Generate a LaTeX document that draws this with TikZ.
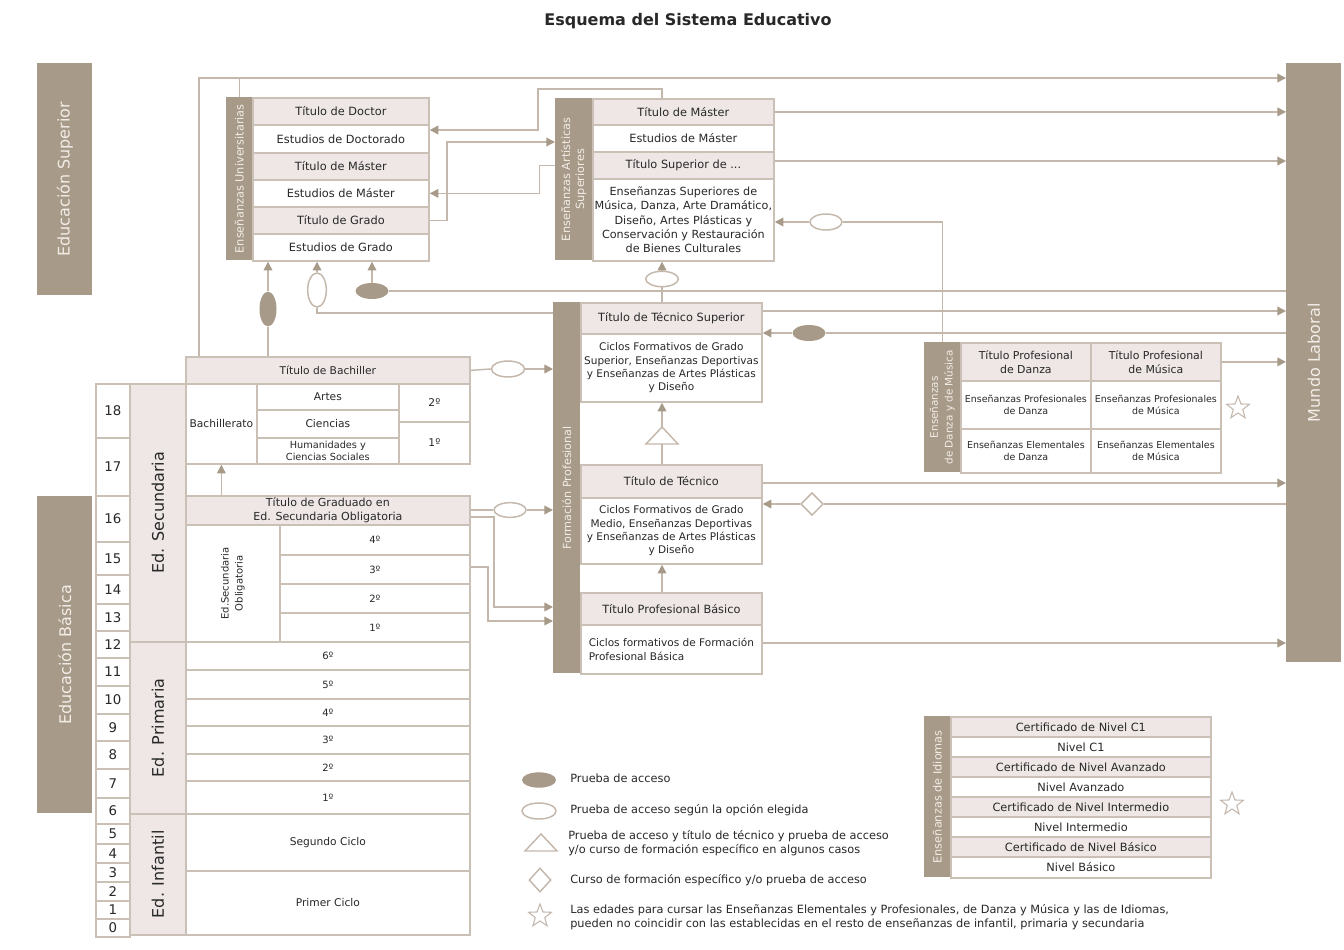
\documentclass[tikz,border=0pt]{standalone}
\usepackage{fontspec}
\setmainfont{DejaVu Sans}
\usetikzlibrary{arrows.meta,shapes.geometric,calc}
\definecolor{brownC}{RGB}{168,154,136}
\definecolor{lightC}{RGB}{238,231,230}
\definecolor{lineC}{RGB}{203,192,182}
\definecolor{connC}{RGB}{196,184,173}
\definecolor{txtC}{RGB}{40,40,40}
\definecolor{barT}{RGB}{242,237,231}
\newcommand\myfs[2]{\fontsize{#1}{#2}\selectfont}
\newcommand\sbx[7]{%
  \pgfmathsetmacro\sbxw{(#4-#2)*0.75}%
  \pgfmathsetmacro\sbxh{(#5-#3)*0.75}%
  \node[#6, minimum width=\sbxw pt, minimum height=\sbxh pt, anchor=north west] (#1) at (#2,#3) {#7};}
\tikzset{
  cell/.style={draw=lineC, line width=1.3pt, fill=white, inner sep=0pt, align=center, text=txtC, font=\myfs{8.5}{10.5}},
  hcell/.style={cell, fill=lightC},
  agecell/.style={cell, font=\myfs{10}{12}},
  bar/.style={fill=brownC, draw=none, inner sep=0pt},
  bartext/.style={text=barT, align=center, inner sep=0pt},
  conn/.style={draw=connC, line width=1.1pt},
  arr/.style={conn, -{Triangle[length=6.5pt,width=6.5pt,color=brownC]}},
  fellipse/.style={ellipse, fill=brownC, draw=none, inner sep=0pt},
  oellipse/.style={ellipse, fill=white, draw=connC, line width=1.1pt, inner sep=0pt},
  odiamond/.style={diamond, draw=connC, line width=1.1pt, fill=white, inner sep=0pt},
  ostar/.style={star, star points=5, star point ratio=2.4, draw=connC, line width=0.8pt, fill=white, inner sep=0pt, minimum size=18pt},
  legtext/.style={anchor=west, align=left, text=txtC, font=\myfs{8.5}{10.5}, inner sep=0pt},
}
\begin{document}
\begin{tikzpicture}[x=0.75pt,y=-0.75pt]
\useasboundingbox (0,0) rectangle (1344,949);
\fill[white] (0,0) rectangle (1344,949);

\node[font=\bfseries\myfs{12}{14}, text=txtC] (title) at (688,21) {Esquema del Sistema Educativo};

% side bars
\sbx{es}{37}{63}{92}{295}{bar}{}
\node[bartext, rotate=90, font=\myfs{12}{14}] (esT) at (es.center) {Educación Superior};
\sbx{eb}{37}{496}{92}{813}{bar}{}
\node[bartext, rotate=90, font=\myfs{12}{14}] (ebT) at (eb.center) {Educación Básica};
\sbx{ml}{1286}{63}{1341}{662}{bar}{}
\node[bartext, rotate=90, font=\myfs{12}{14}] (mlT) at (ml.center) {Mundo Laboral};

% ages
\foreach \n/\ya/\yb in {18/383/437,17/437/495,16/495/541,15/541/574,14/574/603,13/603/630,12/630/657,11/657/685,10/685/713,9/713/740,8/740/768,7/768/797,6/797/823,5/823/843,4/843/862,3/862/881,2/881/900,1/900/918,0/918/936}{
  \sbx{a\n}{95}{\ya}{129}{\yb}{agecell}{\n}
}

% stage labels
\sbx{secL}{129}{383}{185}{641}{hcell}{}
\node[rotate=90, font=\myfs{12}{14}, text=txtC] (secT) at (secL.center) {Ed. Secundaria};
\sbx{primL}{129}{641}{185}{813}{hcell}{}
\node[rotate=90, font=\myfs{12}{14}, text=txtC] (primT) at (primL.center) {Ed. Primaria};
\sbx{infL}{129}{813}{185}{934}{hcell}{}
\node[rotate=90, font=\myfs{12}{14}, text=txtC] (infT) at (infL.center) {Ed. Infantil};

% bachillerato
\sbx{bT}{185}{356}{469}{383}{hcell, font=\myfs{8}{10}}{Título de Bachiller}
\sbx{bB}{185}{383}{256}{463}{cell, font=\myfs{8}{10}}{Bachillerato}
\sbx{bA}{256}{383}{398}{409}{cell, font=\myfs{8}{10}}{Artes}
\sbx{bC}{256}{409}{398}{437}{cell, font=\myfs{8}{10}}{Ciencias}
\sbx{bH}{256}{437}{398}{463}{cell, font=\myfs{7.3}{9}}{Humanidades y\\Ciencias Sociales}
\sbx{b2}{398}{383}{469}{421}{cell, font=\myfs{8}{10}}{2º}
\sbx{b1}{398}{421}{469}{463}{cell, font=\myfs{8}{10}}{1º}

% ESO
\sbx{gT}{185}{495}{469}{524}{hcell, font=\myfs{8.3}{10.5}}{Título de Graduado en\\Ed. Secundaria Obligatoria}
\sbx{gL}{185}{524}{279}{641}{cell}{}
\node[rotate=90, font=\myfs{7.5}{10.5}, text=txtC, align=center] (gLT) at (gL.center) {Ed.Secundaria\\Obligatoria};
\sbx{g4}{279}{524}{469}{554}{cell, font=\myfs{7.5}{9}}{4º}
\sbx{g3}{279}{554}{469}{583}{cell, font=\myfs{7.5}{9}}{3º}
\sbx{g2}{279}{583}{469}{612}{cell, font=\myfs{7.5}{9}}{2º}
\sbx{g1}{279}{612}{469}{641}{cell, font=\myfs{7.5}{9}}{1º}

% primaria / infantil
\sbx{p6}{185}{641}{469}{669}{cell, font=\myfs{7.5}{9}}{6º}
\sbx{p5}{185}{669}{469}{698}{cell, font=\myfs{7.5}{9}}{5º}
\sbx{p4}{185}{698}{469}{725}{cell, font=\myfs{7.5}{9}}{4º}
\sbx{p3}{185}{725}{469}{753}{cell, font=\myfs{7.5}{9}}{3º}
\sbx{p2}{185}{753}{469}{780}{cell, font=\myfs{7.5}{9}}{2º}
\sbx{p1}{185}{780}{469}{813}{cell, font=\myfs{7.5}{9}}{1º}
\sbx{inf2}{185}{813}{469}{870}{cell, font=\myfs{8}{10}}{Segundo Ciclo}
\sbx{inf1}{185}{870}{469}{934}{cell, font=\myfs{8}{10}}{Primer Ciclo}

% universidad
\sbx{univL}{226}{97}{252}{260}{bar}{}
\node[bartext, rotate=90, font=\myfs{8.5}{10}] (univT) at (univL.center) {Enseñanzas Universitarias};
\sbx{uTD}{252}{97}{428}{124}{hcell}{Título de Doctor}
\sbx{uED}{252}{124}{428}{152}{cell}{Estudios de Doctorado}
\sbx{uTM}{252}{152}{428}{179}{hcell}{Título de Máster}
\sbx{uEM}{252}{179}{428}{206}{cell}{Estudios de Máster}
\sbx{uTG}{252}{206}{428}{233}{hcell}{Título de Grado}
\sbx{uEG}{252}{233}{428}{260}{cell}{Estudios de Grado}

% artisticas
\sbx{artL}{555}{98}{592}{260}{bar}{}
\node[bartext, rotate=90, font=\myfs{8.5}{10.5}] (artT) at (artL.center) {Enseñanzas Artísticas\\Superiores};
\sbx{aTM}{592}{98}{773}{124}{hcell}{Título de Máster}
\sbx{aEM}{592}{124}{773}{151}{cell}{Estudios de Máster}
\sbx{aTS}{592}{151}{773}{178}{hcell}{Título Superior de ...}
\sbx{aES}{592}{178}{773}{260}{cell, font=\myfs{8.4}{10.7}}{Enseñanzas Superiores de\\Música, Danza, Arte Dramático,\\Diseño, Artes Plásticas y\\Conservación y Restauración\\de Bienes Culturales}

% formacion profesional
\sbx{fpL}{553}{302}{580}{673}{bar}{}
\node[bartext, rotate=90, font=\myfs{8.4}{10}] (fpT) at (fpL.center) {Formación Profesional};
\sbx{fTS}{580}{302}{761}{333}{hcell}{Título de Técnico Superior}
\sbx{fGS}{580}{333}{761}{401}{cell, font=\myfs{7.9}{10.1}}{Ciclos Formativos de Grado\\Superior, Enseñanzas Deportivas\\y Enseñanzas de Artes Plásticas\\y Diseño}
\sbx{fTT}{580}{464}{761}{497}{hcell}{Título de Técnico}
\sbx{fGM}{580}{497}{761}{563}{cell, font=\myfs{7.9}{10.1}}{Ciclos Formativos de Grado\\Medio, Enseñanzas Deportivas\\y Enseñanzas de Artes Plásticas\\y Diseño}
\sbx{fTPB}{580}{592}{761}{624}{hcell}{Título Profesional Básico}
\sbx{fFPB}{580}{624}{761}{673}{cell, font=\myfs{7.9}{10.5}, align=left}{Ciclos formativos de Formación\\Profesional Básica}

% danza y musica
\sbx{danL}{924}{342}{960}{472}{bar}{}
\node[bartext, rotate=90, font=\myfs{7.8}{11}] (danT) at (danL.center) {Enseñanzas\\de Danza y de Música};
\sbx{dTPD}{960}{342}{1090}{380}{hcell, font=\myfs{8.2}{10.5}}{Título Profesional\\de Danza}
\sbx{dTPM}{1090}{342}{1220}{380}{hcell, font=\myfs{8.2}{10.5}}{Título Profesional\\de Música}
\sbx{dEPD}{960}{380}{1090}{428}{cell, font=\myfs{7.1}{9}}{Enseñanzas Profesionales\\de Danza}
\sbx{dEPM}{1090}{380}{1220}{428}{cell, font=\myfs{7.1}{9}}{Enseñanzas Profesionales\\de Música}
\sbx{dEED}{960}{428}{1090}{472}{cell, font=\myfs{7.1}{9}}{Enseñanzas Elementales\\de Danza}
\sbx{dEEM}{1090}{428}{1220}{472}{cell, font=\myfs{7.1}{9}}{Enseñanzas Elementales\\de Música}
\node[ostar] (st1) at (1238,408) {};

% idiomas
\sbx{idL}{924}{716}{950}{877}{bar}{}
\node[bartext, rotate=90, font=\myfs{8.5}{10}] (idT) at (idL.center) {Enseñanzas de Idiomas};
\sbx{i1}{950}{716}{1210}{736}{hcell}{Certificado de Nivel C1}
\sbx{i2}{950}{736}{1210}{756}{cell}{Nivel C1}
\sbx{i3}{950}{756}{1210}{776}{hcell}{Certificado de Nivel Avanzado}
\sbx{i4}{950}{776}{1210}{796}{cell}{Nivel Avanzado}
\sbx{i5}{950}{796}{1210}{816}{hcell}{Certificado de Nivel Intermedio}
\sbx{i6}{950}{816}{1210}{836}{cell}{Nivel Intermedio}
\sbx{i7}{950}{836}{1210}{856}{hcell}{Certificado de Nivel Básico}
\sbx{i8}{950}{856}{1210}{877}{cell}{Nivel Básico}
\node[ostar] (st2) at (1232,804) {};

% access symbols
\node[fellipse, minimum width=12.75pt, minimum height=26pt] (e1) at (268,309) {};
\node[oellipse, minimum width=14pt, minimum height=25.5pt] (e2) at (317,290) {};
\node[fellipse, minimum width=24.75pt, minimum height=12pt] (e3) at (372,291) {};
\node[oellipse, minimum width=24pt, minimum height=12pt] (e4) at (826,222) {};
\node[oellipse, minimum width=24.5pt, minimum height=11.5pt] (e5) at (662,279) {};
\node[fellipse, minimum width=24.75pt, minimum height=12pt] (e6) at (809,333) {};
\node[oellipse, minimum width=24.75pt, minimum height=12pt] (e7) at (508,369) {};
\node[oellipse, minimum width=24pt, minimum height=11pt] (e8) at (510,510) {};
\node[odiamond, minimum width=17pt, minimum height=17pt] (dia) at (812,504) {};
\coordinate (triA) at (662,427);
\coordinate (triB) at (662,444);
\draw[conn, fill=white] (646,444) -- (678,444) -- (triA) -- cycle;

% connectors
\coordinate (topY) at (0,78);
\draw[arr] ($(bT.north west)+(14,0)$) |- (ml.west |- topY);
\draw[conn] (univL.north) -- (univL.north |- topY);
\draw[conn] ($(bT.north west)+(83,0)$) -- (e1.south);
\draw[arr] (e1.north) -- (e1.north |- uEG.south);
\draw[arr] (e2.north) -- (e2.north |- uEG.south);
\draw[conn] (e2.south) |- (fpL.west |- 0,313);
\draw[arr] (e3.north) -- (e3.north |- uEG.south);
\draw[conn] (e3.east) -- (ml.west |- e3.east);
\draw[arr] ($(aTM.north west)+(70,0)$) |- (538,89) |- (uED.east |- 0,130);
\draw[arr] (uTG.east) -| (447,142) -- (artL.west |- 0,142);
\draw[arr] (artL.west |- aTS.center) -| ($(uEM.east)+(110,0)$) -- (uEM.east);
\draw[arr] (aTM.east) -- (ml.west |- aTM.east);
\draw[arr] (aTS.east |- 0,161) -- (ml.west |- 0,161);
\draw[conn] (danL.north) |- (e4.east);
\draw[arr] (e4.west) -- (aES.east |- e4.west);
\draw[conn] ($(fTS.north west)+(82,0)$) -- (e5.south);
\draw[arr] (e5.north) -- (e5.north |- aES.south);
\draw[arr] (fTS.east |- 0,311) -- (ml.west |- 0,311);
\draw[conn] (ml.west |- e6.east) -- (e6.east);
\draw[arr] (e6.west) -- (fGS.north east);
\draw[conn] (bT.east) -- (e7.west);
\draw[arr] (e7.east) -- (fpL.west |- e7.east);
\draw[conn] (gT.east |- e8.west) -- (e8.west);
\draw[arr] (e8.east) -- (fpL.west |- e8.east);
\draw[arr] (gT.east |- 0,517) -| (494,607) -- (fpL.west |- 0,607);
\draw[arr] (g3.east |- 0,567) -| (488,621) -- (fpL.west |- 0,621);
\draw[arr] (gT.north -| bB.south) -- (bB.south);
\draw[conn] ($(fTT.north west)+(82,0)$) -- (triB);
\draw[arr] (triA) -- (triA |- fGS.south);
\draw[arr] (fTT.east |- 0,483) -- (ml.west |- 0,483);
\draw[conn] (ml.west |- dia.east) -- (dia.east);
\draw[arr] (dia.west) -- (fGM.east |- dia.west);
\draw[arr] ($(fTPB.north west)+(82,0)$) -- ($(fGM.south west)+(82,0)$);
\draw[arr] (fFPB.east |- 0,643) -- (ml.west |- 0,643);
\draw[arr] (dTPM.east) -- (ml.west |- dTPM.east);

% legend
\node[fellipse, minimum width=25.5pt, minimum height=11.5pt] (lg1) at (539,780) {};
\node[legtext] (lg1t) at (570,778) {Prueba de acceso};
\node[oellipse, minimum width=25.5pt, minimum height=12pt] (lg2) at (539,811) {};
\node[legtext] (lg2t) at (570,810) {Prueba de acceso según la opción elegida};
\coordinate (lg3) at (541,842);
\draw[conn, fill=white] (525,851) -- (557,851) -- (541,834) -- cycle;
\node[legtext] (lg3t) at (568,843) {Prueba de acceso y título de técnico y prueba de acceso\\y/o curso de formación específico en algunos casos};
\node[odiamond, minimum width=16.5pt, minimum height=18pt] (lg4) at (540,880) {};
\node[legtext] (lg4t) at (570,880) {Curso de formación específico y/o prueba de acceso};
\node[ostar] (lg5) at (540,916) {};
\node[legtext] (lg5t) at (570,917) {Las edades para cursar las Enseñanzas Elementales y Profesionales, de Danza y Música y las de Idiomas,\\pueden no coincidir con las establecidas en el resto de enseñanzas de infantil, primaria y secundaria};
\end{tikzpicture}
\end{document}
